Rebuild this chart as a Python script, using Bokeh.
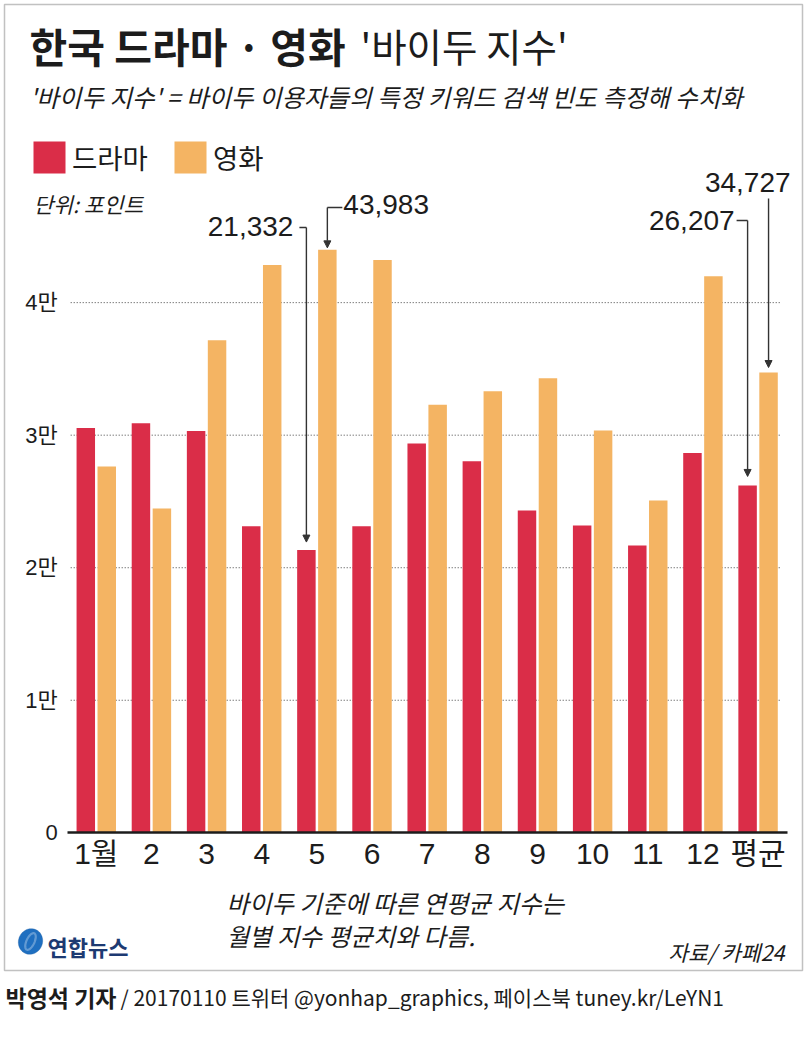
import numpy as np
from bokeh.plotting import figure
from bokeh.models import (Range1d, FixedTicker, Label, Arrow, NormalHead,
                          Legend, LegendItem, PolyAnnotation, ColumnDataSource)
from bokeh.embed import file_html
from bokeh.resources import INLINE

# ---------------- data ----------------
months = ["1월", "2", "3", "4", "5", "6", "7", "8", "9", "10", "11", "12", "평균"]
drama = [30540, 30900, 30310, 23120, 21332, 23120, 29380, 28030, 24320, 23190, 21680, 28650, 26207]
movie = [27630, 24470, 37170, 42840, 43983, 43220, 32300, 33310, 34290, 30360, 25080, 41990, 34727]
series_names = ["드라마", "영화"]
y_ticks = [0, 10000, 20000, 30000, 40000]
y_tick_labels = ["0", "1만", "2만", "3만", "4만"]
# highlighted values: (series, category)
highlights = [("drama", "5"), ("movie", "5"), ("drama", "평균"), ("movie", "평균")]

# ---------------- style / layout ----------------
RED = "#DA2D48"
ORANGE = "#F4B463"
INK = "#1c1c1c"
KR = "Noto Sans CJK KR"
NUM = "'Liberation Sans', 'Noto Sans CJK KR'"

W, H = 806, 1030
UNIT_PX = 55.15      # pixels per category
X0_PX = 68.2         # pixel of the left edge of the first category
BASE_PX = 832.3      # pixel of value 0
VAL_PX = 0.013254    # pixels per value unit

x_start = 0.5 - X0_PX / UNIT_PX
x_end = x_start + W / UNIT_PX
y_end = BASE_PX / VAL_PX
y_start = -(H - BASE_PX) / VAL_PX

p = figure(width=W, height=H, x_range=Range1d(x_start, x_end), y_range=Range1d(y_start, y_end),
           output_backend="svg", toolbar_location=None, min_border=0)
p.outline_line_color = None
p.background_fill_color = "white"
p.border_fill_color = "white"
p.xgrid.visible = False
p.ygrid.visible = False

xpos = list(range(1, len(months) + 1))
src = ColumnDataSource(dict(x=xpos, m=months, drama=drama, movie=movie))
OFF, BW = 0.19, 0.335
src.data["xd"] = [v - OFF for v in xpos]
src.data["xm"] = [v + OFF for v in xpos]
r1 = p.vbar(x="xd", top="drama", width=BW, source=src, fill_color=RED, line_color=None)
r2 = p.vbar(x="xm", top="movie", width=BW, source=src, fill_color=ORANGE, line_color=None)

# dotted gridlines (behind bars)
p.segment(x0=[0.5 + 2 / UNIT_PX] * 4, x1=[len(months) + 0.5 - 4 / UNIT_PX] * 4,
          y0=y_ticks[1:], y1=y_ticks[1:], line_color="#444444", line_dash="1 2",
          line_width=1, level="underlay")

# axes drawn at fixed locations inside the full-canvas frame
p.yaxis.fixed_location = 0.5
p.yaxis.ticker = FixedTicker(ticks=y_ticks)
p.yaxis.major_label_overrides = {t: l for t, l in zip(y_ticks, y_tick_labels)}
p.yaxis.axis_line_color = None
p.yaxis.major_tick_line_color = None
p.yaxis.minor_tick_line_color = None
p.yaxis.major_label_standoff = 5
p.yaxis.major_label_text_font = NUM
p.yaxis.major_label_text_font_size = "22px"
p.yaxis.major_label_text_color = INK

p.xaxis.fixed_location = 0
p.xaxis.bounds = (0.5 - 1.5 / UNIT_PX, len(months) + 0.5 + 1.5 / UNIT_PX)
p.xaxis.ticker = FixedTicker(ticks=xpos)
p.xaxis.major_label_overrides = {x: m for x, m in zip(xpos, months)}
p.xaxis.axis_line_width = 2.5
p.xaxis.axis_line_color = INK
p.xaxis.major_tick_line_color = None
p.xaxis.minor_tick_line_color = None
p.xaxis.major_label_standoff = -2
p.xaxis.major_label_text_font = NUM
p.xaxis.major_label_text_font_size = "30px"
p.xaxis.major_label_text_color = INK

# ---------------- annotations (arrows to highlighted bars) ----------------
PXY = 1.0 / VAL_PX
vals = {"drama": drama, "movie": movie}
offs = {"drama": -OFF, "movie": OFF}


def xc(series, cat):
    return months.index(cat) + 1 + offs[series]


def fmt(v):
    return f"{v:,}"


# layout per highlight: (label y px, label dx px, align, elbow dx px, line top y px, gap px)
ann_layout = [
    (225.5, -13, "right", -7, 227, 8),
    (203.5, 16, "left", 15, 207, 2),
    (220, -13, "right", -11, 220, 9),
    (181.5, 22, "right", 0, 198, 5),
]
for (ser, cat), (ly, ldx, al, edx, ty, gap) in zip(highlights, ann_layout):
    x0 = xc(ser, cat)
    v = vals[ser][months.index(cat)]
    ly_v = (BASE_PX - ly) * PXY
    ty_v = (BASE_PX - ty) * PXY
    p.add_layout(Label(x=x0 + ldx / UNIT_PX, y=ly_v, text=fmt(v), text_align=al,
                       text_baseline="middle", text_font=NUM, text_font_size="28px",
                       text_color=INK))
    if edx != 0:
        p.add_layout(Arrow(end=None, x_start=x0 + edx / UNIT_PX, y_start=ty_v, x_end=x0,
                           y_end=ty_v, line_color="#333333", line_width=1.4))
    p.add_layout(Arrow(end=NormalHead(size=7, fill_color="#333333", line_color="#333333"),
                       x_start=x0, y_start=ty_v, x_end=x0, y_end=v + gap * PXY,
                       line_color="#333333", line_width=1.4))


# ---------------- screen-space texts ----------------
def sy(Y):
    return H - Y


def lab(X, Y, text, size, style="normal", align="left", color=INK, font=KR):
    p.add_layout(Label(x=X, y=sy(Y), x_units="screen", y_units="screen", text=text,
                       text_font=font, text_font_size=size, text_font_style=style,
                       text_align=align, text_baseline="middle", text_color=color))


lab(29, 44, "한국 드라마 · 영화", "41px", "bold")
lab(360, 44, "'바이두 지수'", "38.5px")
lab(29, 96, "'바이두 지수' = 바이두 이용자들의 특정 키워드 검색 빈도 측정해 수치화", "24.5px", "italic")
lab(33, 203, "단위: 포인트", "21.5px", "italic")
lab(226, 902, "바이두 기준에 따른 연평균 지수는", "24.5px", "italic")
lab(226, 935, "월별 지수 평균치와 다름.", "24.5px", "italic")
lab(784, 951, "자료/ 카페24", "21.5px", "italic", align="right")
lab(47, 945, "연합뉴스", "22px", "bold", color="#1d3a72")
lab(5, 996, "박영석 기자", "23px", "bold")
lab(120, 996, "/ 20170110  트위터 @yonhap_graphics, 페이스북 tuney.kr/LeYN1", "21px")

# legend
legend = Legend(items=[LegendItem(label=series_names[0], renderers=[r1]),
                       LegendItem(label=series_names[1], renderers=[r2])],
                location=(29, sy(177)), orientation="horizontal",
                glyph_width=40, glyph_height=40, label_text_font=KR,
                label_text_font_size="27.5px", label_text_color=INK, label_standoff=3,
                spacing=22, padding=0, margin=0, border_line_color=None,
                background_fill_alpha=0)
p.add_layout(legend)

# logo icon (tilted oval)
t = np.linspace(0, 2 * np.pi, 48)
th = np.deg2rad(25)
cx, cy = 30, 941
ex = cx + 12 * np.cos(t) * np.cos(th) - 13 * np.sin(t) * np.sin(th)
ey = cy + 12 * np.cos(t) * np.sin(th) + 13 * np.sin(t) * np.cos(th)
p.add_layout(PolyAnnotation(xs=list(ex), ys=list(sy(ey)), xs_units="screen", ys_units="screen",
                            fill_color="#1f6fc0", fill_alpha=1, line_color="#1a5aa0", line_width=1))
ix = cx + 4 * np.cos(t) * np.cos(th) - 9 * np.sin(t) * np.sin(th)
iy = cy + 4 * np.cos(t) * np.sin(th) + 9 * np.sin(t) * np.cos(th)
p.add_layout(PolyAnnotation(xs=list(ix), ys=list(sy(iy)), xs_units="screen", ys_units="screen",
                            fill_alpha=0, line_color="white", line_width=2.2))

# outer frame
p.add_layout(PolyAnnotation(xs=[4, 802, 802, 4], ys=[sy(4), sy(4), sy(970), sy(970)],
                            xs_units="screen", ys_units="screen",
                            fill_alpha=0, line_color="#333333", line_width=1.5))

open("out.html", "w").write(file_html(p, INLINE))
